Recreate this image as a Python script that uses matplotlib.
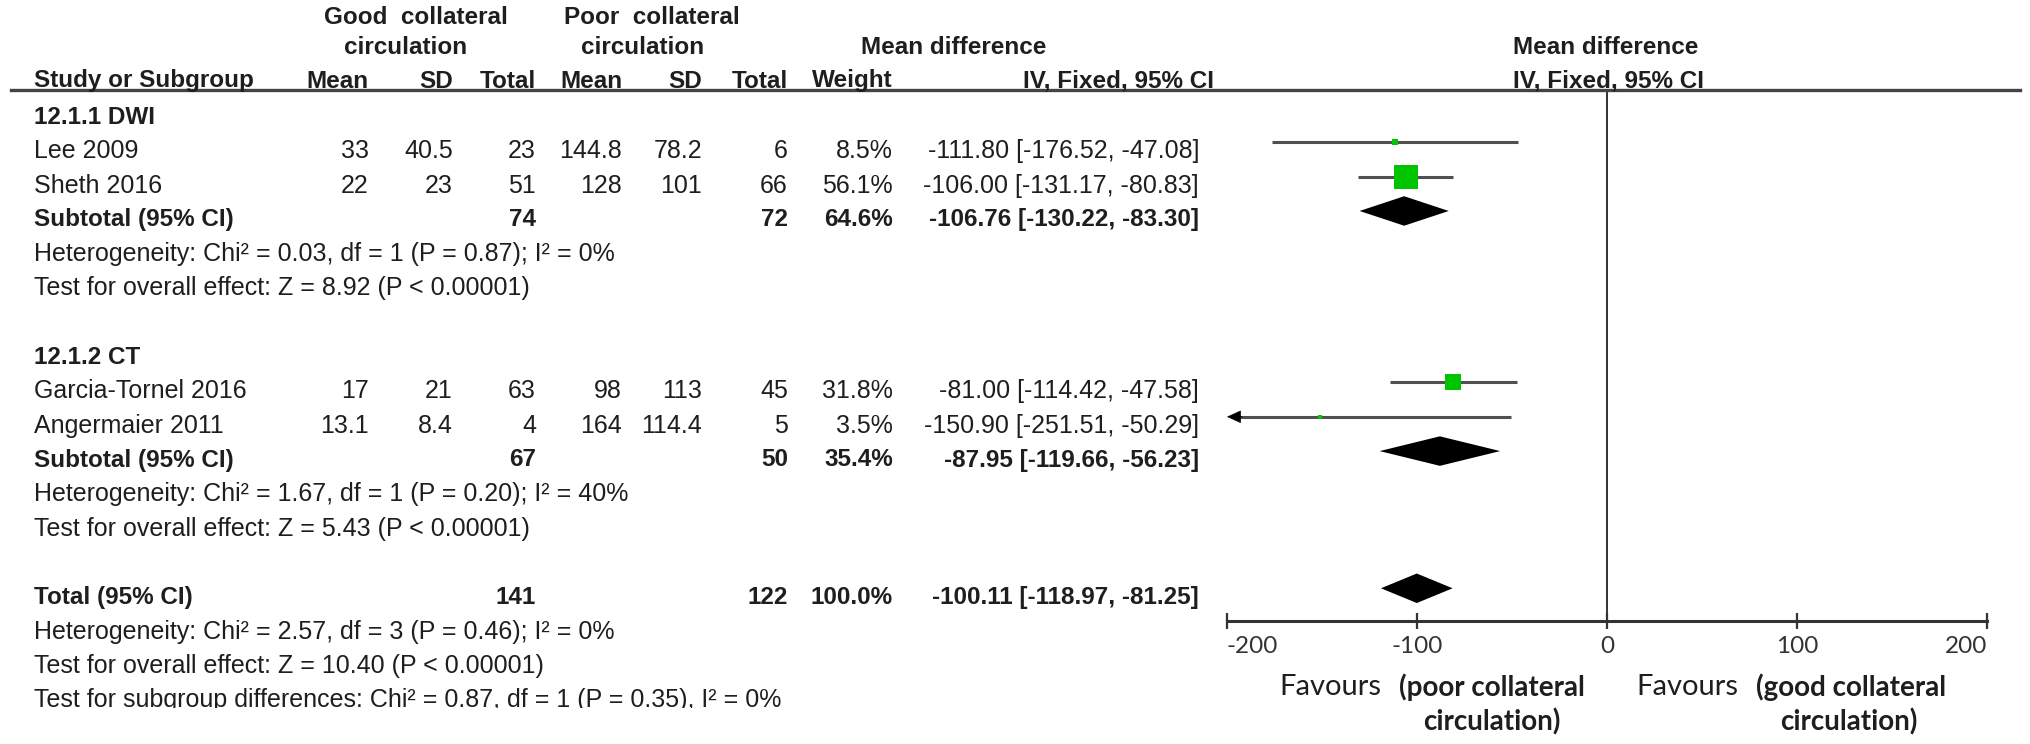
import matplotlib
matplotlib.use("Agg")
import matplotlib.pyplot as plt
from matplotlib.lines import Line2D
from matplotlib.patches import Polygon
from matplotlib.transforms import Bbox, TransformedBbox

# ---- data ----
studies = ["Lee 2009", "Sheth 2016", "Garcia-Tornel 2016", "Angermaier 2011"]
good_mean = ["33", "22", "17", "13.1"]
good_sd = ["40.5", "23", "21", "8.4"]
good_n = [23, 51, 63, 4]
poor_mean = ["144.8", "128", "98", "164"]
poor_sd = ["78.2", "101", "113", "114.4"]
poor_n = [6, 66, 45, 5]
weights = [8.5, 56.1, 31.8, 3.5]
md = [-111.80, -106.00, -81.00, -150.90]
md_lo = [-176.52, -131.17, -114.42, -251.51]
md_hi = [-47.08, -80.83, -47.58, -50.29]

subgroups = ["12.1.1 DWI", "12.1.2 CT"]
sub_members = [[0, 1], [2, 3]]
sub_good_n = [74, 67]
sub_poor_n = [72, 50]
sub_weight = [64.6, 35.4]
sub_md = [-106.76, -87.95]
sub_lo = [-130.22, -119.66]
sub_hi = [-83.30, -56.23]
sub_het = ["Heterogeneity: Chi² = 0.03, df = 1 (P = 0.87); I² = 0%",
           "Heterogeneity: Chi² = 1.67, df = 1 (P = 0.20); I² = 40%"]
sub_z = ["Test for overall effect: Z = 8.92 (P < 0.00001)",
         "Test for overall effect: Z = 5.43 (P < 0.00001)"]

total_good_n = 141
total_poor_n = 122
total_weight = 100.0
total_md = -100.11
total_lo = -118.97
total_hi = -81.25
total_notes = ["Heterogeneity: Chi² = 2.57, df = 3 (P = 0.46); I² = 0%",
               "Test for overall effect: Z = 10.40 (P < 0.00001)",
               "Test for subgroup differences: Chi² = 0.87, df = 1 (P = 0.35), I² = 0%"]

x_ticks = [-200, -100, 0, 100, 200]

# ---- layout (pixels) ----
W, H = 2031, 744
TF = ["Liberation Sans", "DejaVu Sans"]
LF = ["Lato", "DejaVu Sans"]
TS = 18          # regular table text
TSB = 17.5       # bold table text
TXT = "#1e1e1e"
GREEN = "#00c400"
GREY = "#505050"
col_right = [369, 453, 536, 622, 702, 788, 893]
ci_right = 1199


def fx(x):
    return x / W


def fy(y):
    return 1 - y / H


def row_y(k):
    return 117 + 34.3 * k


fig = plt.figure(figsize=(W / 100, H / 100), dpi=100)


def put(x, y, s, ha="left", bold=False, family=TF, size=None):
    if size is None:
        size = TSB if bold else TS
    return fig.text(fx(x), fy(y), s, ha=ha, va="center", fontsize=size, color=TXT,
                    fontweight="bold" if bold else "normal", family=family)


# headers
put(416, 18, "Good  collateral", ha="center", bold=True)
put(406, 48, "circulation", ha="center", bold=True)
put(652, 18, "Poor  collateral", ha="center", bold=True)
put(643, 48, "circulation", ha="center", bold=True)
put(954, 48, "Mean difference", ha="center", bold=True)
put(1513, 48, "Mean difference", bold=True)
put(34, 81, "Study or Subgroup", bold=True)
for x, s in zip(col_right, ["Mean", "SD", "Total", "Mean", "SD", "Total", "Weight"]):
    put(x, 81, s, ha="right", bold=True)
put(1214, 81, "IV, Fixed, 95% CI", ha="right", bold=True)
put(1513, 81, "IV, Fixed, 95% CI", bold=True)
fig.add_artist(Line2D([fx(11), fx(2020)], [fy(90), fy(90)], transform=fig.transFigure,
                      color="#444444", lw=2.4))

# forest axes
ax = fig.add_axes([fx(1227), fy(621), (1987 - 1227) / W, (621 - 90) / H])
ax.set_xlim(-200, 200)
ax.set_ylim((621 - 117) / 34.3, (90 - 117) / 34.3)
for sp in ["top", "left", "right"]:
    ax.spines[sp].set_visible(False)
ax.spines["bottom"].set_linewidth(2.2)
ax.spines["bottom"].set_color("#333333")
ax.set_yticks([])
ax.set_xticks(x_ticks)
ax.set_xticklabels([str(t) for t in x_ticks])
ax.tick_params(axis="x", direction="inout", length=11, width=1.6, pad=5,
               labelsize=17.5, colors="#333333", labelfontfamily="Lato")
# end labels sit inside the axis, as in RevMan
tl = ax.get_xticklabels()
tl[0].set_ha("left")
tl[-1].set_ha("right")
ax.axvline(0, color="#333333", lw=1.4)
ax.patch.set_visible(False)

OFF = 0.26


def ci_text(m, lo, hi):
    return f"{m:.2f} [{lo:.2f}, {hi:.2f}]"


def diamond(k, m, lo, hi):
    y = k - OFF
    ax.add_patch(Polygon([[lo, y], [m, y - 0.43], [hi, y], [m, y + 0.43]],
                         closed=True, color="black", lw=0))


k = 0
for g, name in enumerate(subgroups):
    put(34, row_y(k), name, bold=True)
    k += 1
    for i in sub_members[g]:
        y = row_y(k)
        put(34, y, studies[i])
        vals = [good_mean[i], good_sd[i], str(good_n[i]), poor_mean[i], poor_sd[i],
                str(poor_n[i]), f"{weights[i]:.1f}%"]
        for x, s in zip(col_right, vals):
            put(x, y, s, ha="right")
        put(ci_right, y, ci_text(md[i], md_lo[i], md_hi[i]), ha="right")
        gy = k - OFF
        xmin = ax.get_xlim()[0]
        if md_lo[i] < xmin:
            ax.plot([xmin + 4, md_hi[i]], [gy, gy], color=GREY, lw=2.2, solid_capstyle="butt")
            ax.annotate("", xy=(xmin, gy), xytext=(xmin + 8, gy),
                        arrowprops=dict(arrowstyle="-|>,head_length=0.7,head_width=0.32",
                                        color="black", lw=0.5, shrinkA=0, shrinkB=0,
                                        mutation_scale=13))
        else:
            ax.plot([md_lo[i], md_hi[i]], [gy, gy], color=GREY, lw=2.2, solid_capstyle="butt")
        side = 24 * (weights[i] / 56.1) ** 0.7
        ax.plot([md[i]], [gy], marker="s", ms=side * 0.72, color=GREEN, mec=GREEN, mew=0)
        k += 1
    y = row_y(k)
    put(34, y, "Subtotal (95% CI)", bold=True)
    put(col_right[2], y, str(sub_good_n[g]), ha="right", bold=True)
    put(col_right[5], y, str(sub_poor_n[g]), ha="right", bold=True)
    put(col_right[6], y, f"{sub_weight[g]:.1f}%", ha="right", bold=True)
    put(ci_right, y, ci_text(sub_md[g], sub_lo[g], sub_hi[g]), ha="right", bold=True)
    diamond(k, sub_md[g], sub_lo[g], sub_hi[g])
    k += 1
    put(34, row_y(k), sub_het[g])
    k += 1
    put(34, row_y(k), sub_z[g])
    k += 2

y = row_y(k)
put(34, y, "Total (95% CI)", bold=True)
put(col_right[2], y, str(total_good_n), ha="right", bold=True)
put(col_right[5], y, str(total_poor_n), ha="right", bold=True)
put(col_right[6], y, f"{total_weight:.1f}%", ha="right", bold=True)
put(ci_right, y, ci_text(total_md, total_lo, total_hi), ha="right", bold=True)
diamond(k, total_md, total_lo, total_hi)
k += 1
for j, note in enumerate(total_notes):
    t = put(34, row_y(k), note)
    if j == len(total_notes) - 1:
        # the source image cuts this last line off just under its baseline
        clip = TransformedBbox(Bbox([[0, fy(708)], [fx(1000), 1]]), fig.transFigure)
        t.set_clip_box(clip)
        t.set_clip_on(True)
    k += 1

# favours labels
put(1279, 687, "Favours", family=LF, size=21)
put(1399, 687, "(poor collateral", family=LF, size=20, bold=True)
put(1492, 722, "circulation)", ha="center", family=LF, size=20, bold=True)
put(1636, 687, "Favours", family=LF, size=21)
put(1756, 687, "(good collateral", family=LF, size=20, bold=True)
put(1849, 722, "circulation)", ha="center", family=LF, size=20, bold=True)

fig.savefig("out.png", dpi=100)
